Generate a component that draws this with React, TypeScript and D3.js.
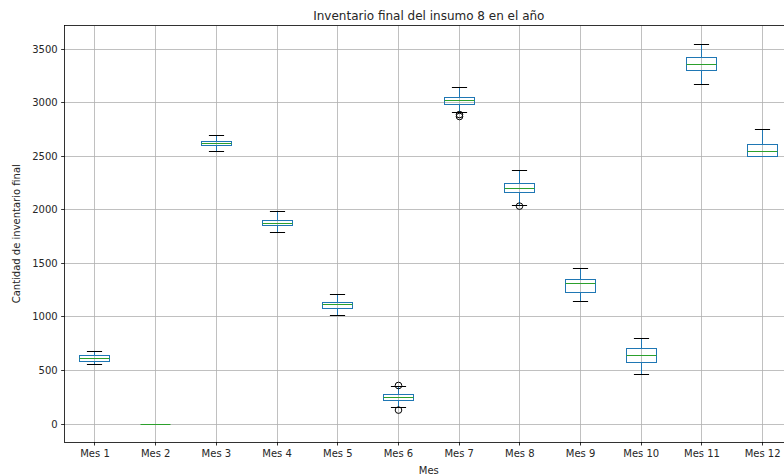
import React from "react";
import * as d3 from "d3";

const months = ["Mes 1","Mes 2","Mes 3","Mes 4","Mes 5","Mes 6","Mes 7","Mes 8","Mes 9","Mes 10","Mes 11","Mes 12"];
const whisLo = [560, 0, 2547, 1787, 1012, 155, 2905, 2045, 1142, 458, 3169, 2497];
const q1 =     [588, 0, 2597, 1852, 1083, 221, 2986, 2158, 1230, 573, 3300, 2497];
const median = [615, 0, 2618, 1877, 1114, 252, 3020, 2204, 1308, 642, 3356, 2547];
const q3 =     [644, 0, 2641, 1899, 1133, 274, 3051, 2248, 1348, 703, 3425, 2615];
const whisHi = [675, 0, 2690, 1983, 1208, 350, 3145, 2366, 1451, 797, 3540, 2753];
const outliers: number[][] = [[], [], [], [], [], [130, 360], [2872, 2890], [2035], [], [], [], []];
const yTicks = [0, 500, 1000, 1500, 2000, 2500, 3000, 3500];

const W = 784, H = 476;
const left = 64.65, right = 793, top = 25.5, bottom = 442;
const font = "DejaVu Sans, sans-serif";
const s = (v: number) => Math.round(v - 0.5) + 0.5;

export default function App() {
  const x = d3.scaleLinear().domain([0.5, 12.5]).range([left, right]);
  const y = d3.scaleLinear().domain([-168, 3722]).range([bottom, top]);
  const step = x(2) - x(1);
  const bw = step * 0.5;
  const cw = bw * 0.5;
  return (
    <svg width={W} height={H} style={{ position: "absolute", left: 0, top: 0, background: "#fff" }}>
      <rect x={0} y={0} width={W} height={H} fill="#fff" />
      <defs>
        <clipPath id="ax"><rect x={left} y={top} width={right - left} height={bottom - top} /></clipPath>
      </defs>
      <g clipPath="url(#ax)">
        {yTicks.map(t => (
          <line key={"gy" + t} x1={left} x2={right} y1={s(y(t))} y2={s(y(t))} stroke="#b0b0b0" strokeWidth={0.8} />
        ))}
        {months.map((m, i) => (
          <line key={"gx" + m} x1={s(x(i + 1))} x2={s(x(i + 1))} y1={top} y2={bottom} stroke="#b0b0b0" strokeWidth={0.8} />
        ))}
        {months.map((m, i) => {
          const cx = s(x(i + 1));
          return (
            <g key={"b" + m}>
              <line x1={cx} x2={cx} y1={s(y(q1[i]))} y2={s(y(whisLo[i]))} stroke="#1f77b4" strokeWidth={1} />
              <line x1={cx} x2={cx} y1={s(y(q3[i]))} y2={s(y(whisHi[i]))} stroke="#1f77b4" strokeWidth={1} />
              <line x1={cx - cw / 2} x2={cx + cw / 2} y1={s(y(whisLo[i]))} y2={s(y(whisLo[i]))} stroke="#000" strokeWidth={1} />
              <line x1={cx - cw / 2} x2={cx + cw / 2} y1={s(y(whisHi[i]))} y2={s(y(whisHi[i]))} stroke="#000" strokeWidth={1} />
              <rect x={s(cx - bw / 2)} y={s(y(q3[i]))} width={Math.round(bw)} height={s(y(q1[i])) - s(y(q3[i]))} fill="none" stroke="#1f77b4" strokeWidth={1} />
              <line x1={s(cx - bw / 2)} x2={s(cx - bw / 2) + Math.round(bw)} y1={s(y(median[i]))} y2={s(y(median[i]))} stroke="#2ca02c" strokeWidth={1} />
              {outliers[i].map((o, k) => (
                <circle key={k} cx={cx} cy={y(o)} r={3.3} fill="none" stroke="#000" strokeWidth={1} />
              ))}
            </g>
          );
        })}
      </g>
      <rect x={s(left)} y={s(top)} width={right - left} height={s(bottom) - s(top)} fill="none" stroke="#000" strokeWidth={0.8} />
      {yTicks.map(t => (
        <g key={"ty" + t}>
          <line x1={left - 3.5} x2={left} y1={s(y(t))} y2={s(y(t))} stroke="#000" strokeWidth={0.8} />
          <text x={left - 7} y={y(t)} dy="0.35em" textAnchor="end" fontFamily={font} fontSize={10} fill="#262626">{t}</text>
        </g>
      ))}
      {months.map((m, i) => (
        <g key={"tx" + m}>
          <line x1={s(x(i + 1))} x2={s(x(i + 1))} y1={bottom} y2={bottom + 3.5} stroke="#000" strokeWidth={0.8} />
          <text x={x(i + 1)} y={bottom + 7} dy="0.76em" textAnchor="middle" fontFamily={font} fontSize={10} fill="#262626">{m}</text>
        </g>
      ))}
      <text x={(left + right) / 2} y={474} textAnchor="middle" fontFamily={font} fontSize={10} fill="#262626">Mes</text>
      <text transform={`translate(19.5, ${(top + bottom) / 2}) rotate(-90)`} textAnchor="middle" fontFamily={font} fontSize={10} fill="#262626">Cantidad de inventario final</text>
      <text x={(left + right) / 2} y={19.5} textAnchor="middle" fontFamily={font} fontSize={12} fill="#262626">Inventario final del insumo 8 en el año</text>
    </svg>
  );
}
